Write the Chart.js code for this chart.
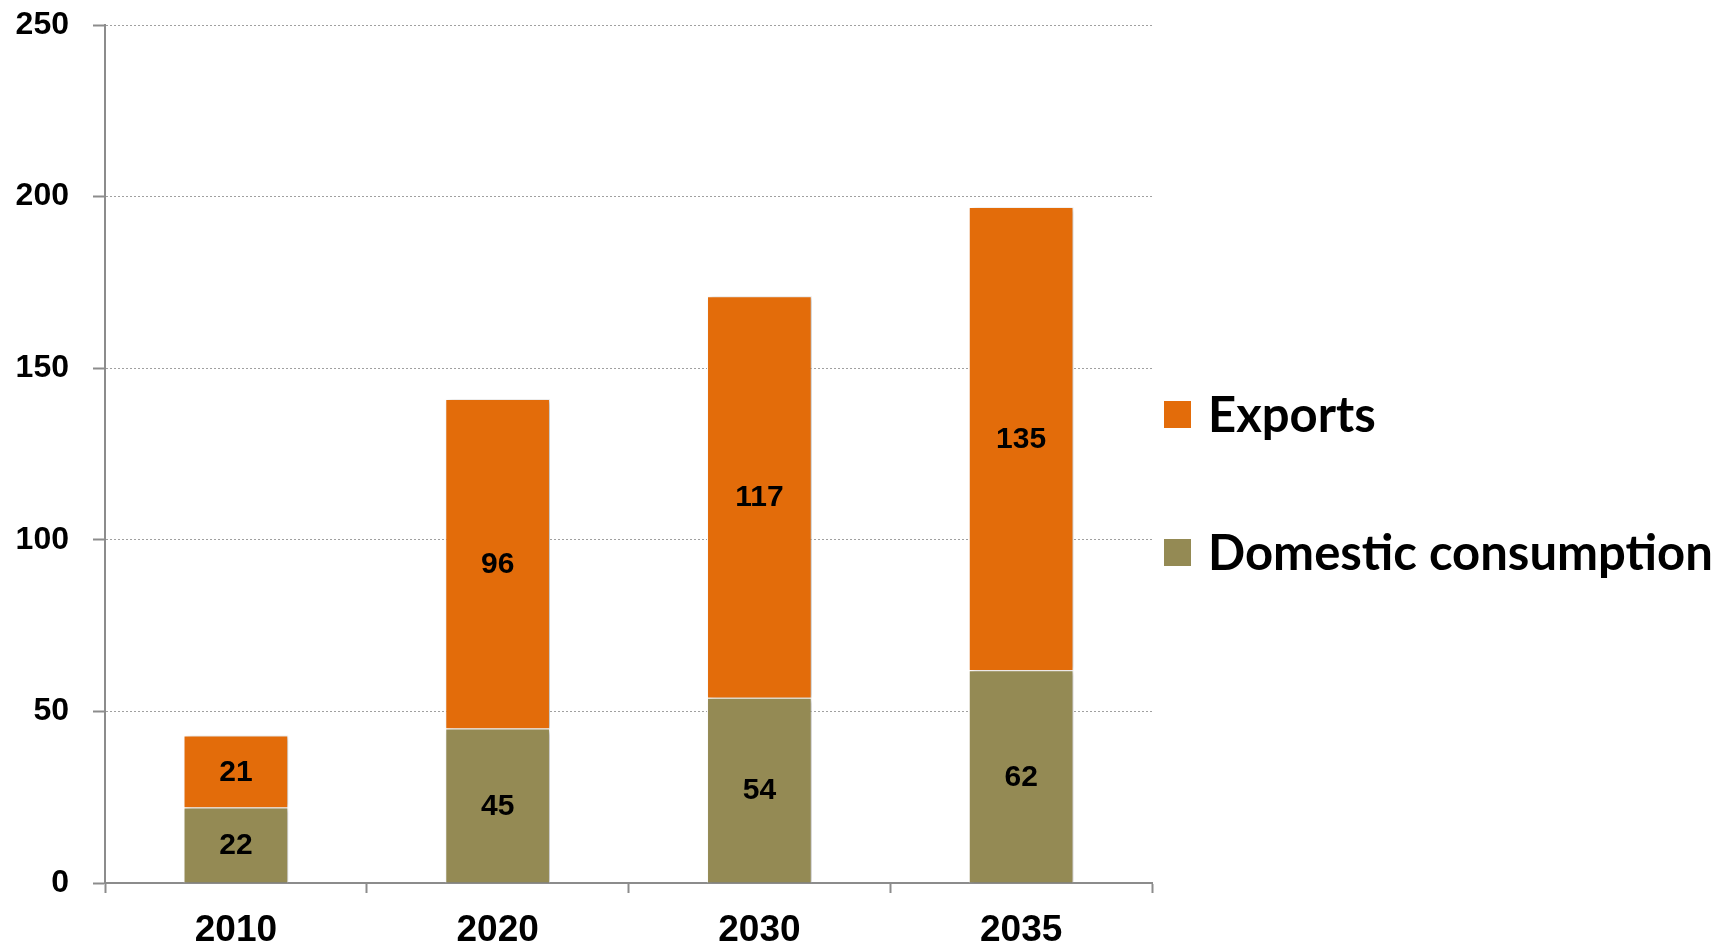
<!DOCTYPE html>
<html>
<head>
<meta charset="utf-8">
<script src="https://cdn.jsdelivr.net/npm/chart.js@4.4.0/dist/chart.umd.min.js"></script>
<style>
  html, body { margin: 0; padding: 0; background: #fff; }
  #wrap { width: 1730px; height: 945px; position: relative; }
</style>
</head>
<body>
<div id="wrap"><canvas id="chart"></canvas></div>
<script>
// Data
const years = ['2010', '2020', '2030', '2035'];
const domestic = [22, 45, 54, 62];
const exportsVals = [21, 96, 117, 135];
const yMax = 250;
const yStep = 50;

const ORANGE = '#E36C0A';
const OLIVE = '#948A54';
const AXIS = '#8c8c8c';

// soft shadow behind the bars, then value labels in each segment
const barDecor = {
    id: 'barDecor',
    beforeDatasetsDraw(chart) {
        const ctx = chart.ctx;
        ctx.save();
        ctx.shadowColor = 'rgba(0,0,0,0.25)';
        ctx.shadowBlur = 5;
        ctx.shadowOffsetX = 3;
        ctx.shadowOffsetY = 1;
    },
    afterDatasetsDraw(chart) {
        const ctx = chart.ctx;
        ctx.restore();
        ctx.save();
        ctx.font = 'bold 30px "Liberation Sans", Arial, sans-serif';
        ctx.fillStyle = '#000';
        ctx.textAlign = 'center';
        ctx.textBaseline = 'middle';
        chart.data.datasets.forEach((ds, i) => {
            chart.getDatasetMeta(i).data.forEach((bar, j) => {
                ctx.fillText(String(ds.data[j]), bar.x, (bar.y + bar.base) / 2 + 1);
            });
        });
        ctx.restore();
    }
};

// legend to the right of the plot, top item = top of stack
const sideLegend = {
    id: 'sideLegend',
    afterDraw(chart) {
        const ctx = chart.ctx;
        const area = chart.chartArea;
        const items = chart.data.datasets.slice().reverse();
        const rowY = [414, 552];
        ctx.save();
        ctx.font = 'bold 49px Lato, "Open Sans", sans-serif';
        ctx.textBaseline = 'middle';
        ctx.textAlign = 'left';
        items.forEach((ds, i) => {
            const y = rowY[i];
            ctx.fillStyle = ds.backgroundColor;
            ctx.fillRect(area.right + 12, y - 13, 27, 27);
            ctx.fillStyle = '#000';
            ctx.fillText(ds.label, area.right + 56, y + 2);
        });
        ctx.restore();
    }
};

const ctx = document.getElementById('chart').getContext('2d');
new Chart(ctx, {
    type: 'bar',
    data: {
        labels: years,
        datasets: [
            {
                label: 'Domestic consumption',
                data: domestic,
                backgroundColor: OLIVE,
                borderColor: '#ffffff',
                borderWidth: 1,
                categoryPercentage: 1,
                barPercentage: 0.4
            },
            {
                label: 'Exports',
                data: exportsVals,
                backgroundColor: ORANGE,
                borderColor: '#ffffff',
                borderWidth: 1,
                categoryPercentage: 1,
                barPercentage: 0.4
            }
        ]
    },
    options: {
        responsive: true,
        maintainAspectRatio: false,
        animation: false,
        layout: {
            padding: { top: 25, right: 578, bottom: 0, left: 0 }
        },
        plugins: {
            legend: { display: false },
            tooltip: { enabled: false }
        },
        scales: {
            x: {
                stacked: true,
                ticks: {
                    color: '#000',
                    padding: 16,
                    font: { family: '"Liberation Sans", Arial, sans-serif', size: 37, weight: 'bold' }
                },
                grid: {
                    offset: true,
                    drawOnChartArea: false,
                    drawTicks: true,
                    tickLength: 10,
                    tickColor: AXIS,
                    tickWidth: 2
                },
                border: { color: AXIS, width: 2 },
                afterFit(scale) { scale.height = 62; }
            },
            y: {
                stacked: true,
                min: 0,
                max: yMax,
                ticks: {
                    stepSize: yStep,
                    color: '#000',
                    padding: 24,
                    font: { family: '"Liberation Sans", Arial, sans-serif', size: 32, weight: 'bold' }
                },
                grid: {
                    color: '#a0a0a0',
                    lineWidth: 1,
                    tickLength: 12,
                    tickColor: AXIS,
                    tickWidth: 2
                },
                border: { color: AXIS, width: 2, dash: [2, 2] },
                afterFit(scale) {
                    scale.width = 105;
                    // tick padding is horizontal here, keep it out of the top/bottom margins
                    scale.paddingTop = 0;
                    scale.paddingBottom = 0;
                }
            }
        }
    },
    plugins: [barDecor, sideLegend]
});
</script>
</body>
</html>
